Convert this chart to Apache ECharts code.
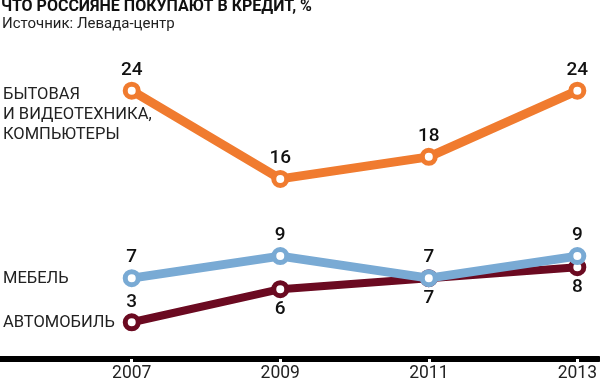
<!DOCTYPE html>
<html>
<head>
<meta charset="utf-8">
<script src="https://cdn.jsdelivr.net/npm/echarts@6/dist/echarts.min.js"></script>
<style>html,body{margin:0;padding:0;background:#fff;}#c{width:600px;height:383px;}</style>
</head>
<body>
<div id="c"></div>
<script>
const titleText = 'ЧТО РОССИЯНЕ ПОКУПАЮТ В КРЕДИТ, %';
const sourceText = 'Источник: Левада-центр';
const years = [2007, 2009, 2011, 2013];
const appliances = [24, 16, 18, 24];
const furniture = [7, 9, 7, 9];
const cars = [3, 6, 7, 8];
const appliancesName = 'БЫТОВАЯ\nИ ВИДЕОТЕХНИКА,\nКОМПЬЮТЕРЫ';
const furnitureName = 'МЕБЕЛЬ';
const carsName = 'АВТОМОБИЛЬ';
const appliancesLabelPos = ['top', 'top', 'top', 'top'];
const furnitureLabelPos = ['top', 'top', 'top', 'top'];
const carsLabelPos = ['top', 'bottom', 'bottom', 'bottom'];

const FONT = 'Roboto';
const chart = echarts.init(document.getElementById('c'), null, {renderer: 'canvas'});

function mk(name, vals, pos, color, width, z) {
  return {
    name: name,
    type: 'line',
    z: z,
    data: years.map((y, i) => ({value: [y, vals[i]], label: {position: pos[i]}})),
    symbol: 'circle',
    symbolSize: 13,
    showSymbol: true,
    lineStyle: {color: color, width: width},
    itemStyle: {color: '#fff', borderColor: color, borderWidth: 5},
    label: {show: true, distance: 2, fontSize: 19, fontFamily: FONT, fontWeight: 500, color: '#111',
      formatter: p => p.value[1]},
    emphasis: {disabled: true}
  };
}

const tickVals = years.slice();
chart.setOption({
  animation: false,
  backgroundColor: '#fff',
  title: [
    {text: titleText, left: 1, top: -1, padding: 0,
     textStyle: {fontFamily: 'Liberation Sans Narrow, ' + FONT, fontWeight: 'bold', fontSize: 16, color: '#111'}},
    {text: sourceText, left: 2, top: 17, padding: 0,
     textStyle: {fontFamily: FONT, fontWeight: 'normal', fontSize: 15, color: '#222'}}
  ],
  graphic: [
    {type: 'text', left: 3, top: 85, style: {text: appliancesName, font: '16.5px ' + FONT, lineHeight: 20, fill: '#222'}},
    {type: 'text', left: 3, top: 270, style: {text: furnitureName, font: '16.5px ' + FONT, fill: '#222'}},
    {type: 'text', left: 3, top: 314, style: {text: carsName, font: '16.5px ' + FONT, fill: '#222'}}
  ],
  grid: {left: 0, right: 0, top: 90.7, bottom: 23.5},
  xAxis: [
    {type: 'value', min: 2005.2263, max: 2013.289, position: 'bottom',
     axisLine: {show: true, onZero: false, lineStyle: {color: '#000', width: 6}},
     axisTick: {show: true, customValues: tickVals, inside: false, length: 4, lineStyle: {color: '#fff', width: 3}},
     axisLabel: {show: true, customValues: tickVals, margin: 6, fontSize: 17.5, fontFamily: FONT, color: '#222', formatter: v => String(v)},
     splitLine: {show: false}},
    {type: 'value', min: 2005.2263, max: 2013.289, position: 'bottom',
     axisLine: {show: false},
     axisTick: {show: true, customValues: tickVals, inside: true, length: 4, lineStyle: {color: '#fff', width: 3}},
     axisLabel: {show: false},
     splitLine: {show: false}}
  ],
  yAxis: {type: 'value', min: -0.33, max: 24, show: false, splitLine: {show: false}},
  series: [
    mk(carsName, cars, carsLabelPos, '#6B0A21', 8, 2),
    mk(furnitureName, furniture, furnitureLabelPos, '#79AAD4', 9, 3),
    mk(appliancesName, appliances, appliancesLabelPos, '#F07B2F', 9, 4)
  ]
});
</script>
</body>
</html>
